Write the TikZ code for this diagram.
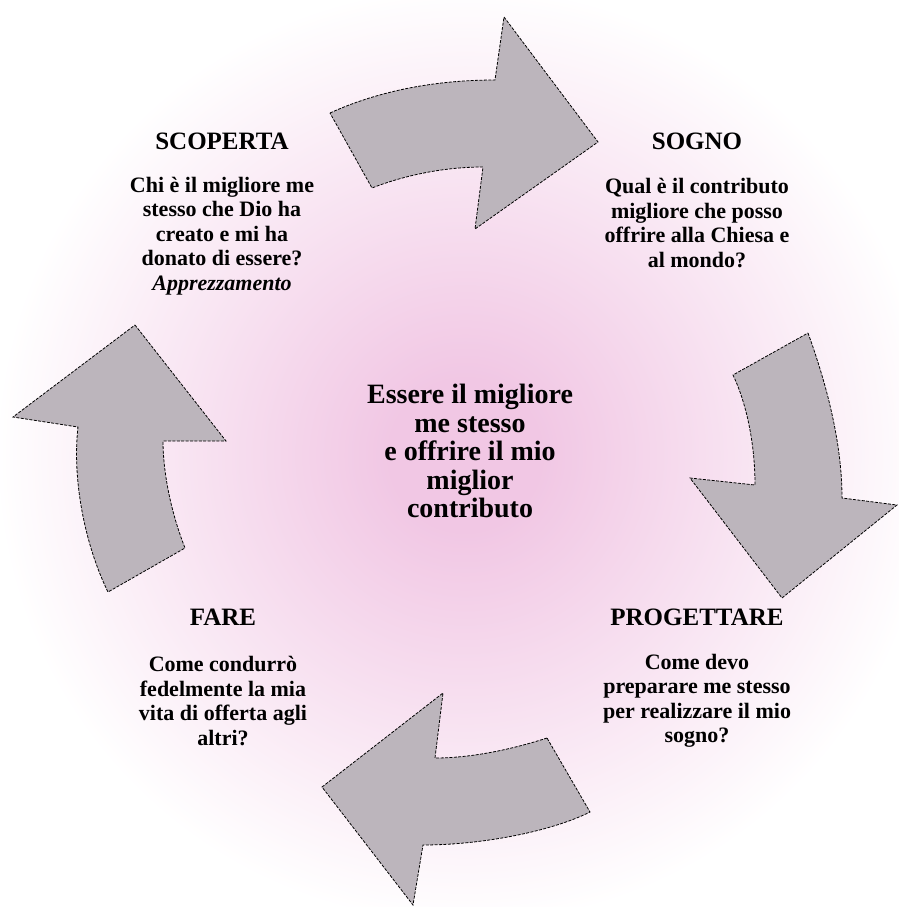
\documentclass[tikz,border=0pt]{standalone}
\usepackage{fontspec}
\setmainfont{Liberation Serif}

\definecolor{arrowgray}{RGB}{188,181,188}
\definecolor{glowpink}{RGB}{241,199,228}
\pgfdeclareradialshading{pinkglow}{\pgfpoint{0bp}{0bp}}{color(0bp)=(glowpink); color(4bp)=(glowpink); color(25bp)=(white); color(50bp)=(white)}

\tikzset{
  cyclearrow/.style={fill=arrowgray, draw=black, line width=0.8pt, dash pattern=on 3pt off 1.4pt, line join=miter},
  stagehead/.style={font=\fontsize{25}{28}\selectfont\bfseries, align=center},
  stagetext/.style={font=\fontsize{22}{24.5}\selectfont\bfseries, align=center},
  coretext/.style={font=\fontsize{28}{28.5}\selectfont\bfseries, align=center}
}

\begin{document}
\begin{tikzpicture}[x=1pt,y=-1pt]
\useasboundingbox (0,0) rectangle (898,907);
\fill[white] (0,0) rectangle (898,907);
\shade[shading=pinkglow] (465,455) circle (470pt);

% --- Arrows of the cycle ---
\draw[cyclearrow] (330,113) .. controls (365,97) and (420,80) .. (495,80) -- (504,17) -- (598,142)
  -- (475,229) -- (483,167) .. controls (440,167) and (400,177) .. (372,188) -- cycle;
\draw[cyclearrow] (808,333) .. controls (825,380) and (842,440) .. (842,498) -- (897,505) -- (782,598)
  -- (690,478) -- (755,485) .. controls (755,440) and (745,400) .. (733,375) -- cycle;
\draw[cyclearrow] (547,738) .. controls (510,750) and (470,758) .. (435,758) -- (443,693) -- (322,787)
  -- (413,905) -- (423,845) .. controls (480,845) and (550,832) .. (590,812) -- cycle;
\draw[cyclearrow] (135,325) -- (226,441) -- (163,441) .. controls (163,470) and (170,510) .. (185,548)
  -- (108,592) .. controls (85,545) and (72,480) .. (78,427) -- (13,417) -- cycle;

% --- Stages ---
\node[stagehead] (scoperta) at (222,141) {SCOPERTA};
\node[stagetext] (scopertatxt) at (222,236) {Chi è il migliore me\\stesso che Dio ha\\creato e mi ha\\donato di essere?\\\textit{Apprezzamento}};

\node[stagehead] (sogno) at (697,141) {SOGNO};
\node[stagetext] (sognotxt) at (697,223) {Qual è il contributo\\migliore che posso\\offrire alla Chiesa e\\al mondo?};

\node[stagehead] (fare) at (223,617) {FARE};
\node[stagetext] (faretxt) at (223,701) {Come condurrò\\fedelmente la mia\\vita di offerta agli\\altri?};

\node[stagehead] (progettare) at (697,617) {PROGETTARE};
\node[stagetext] (progettaretxt) at (697,701) {Come devo\\preparare me stesso\\per realizzare il mio\\sogno?};

% --- Centre ---
\node[coretext] (core) at (470,451) {Essere il migliore\\me stesso\\e offrire il mio\\miglior\\contributo};
\end{tikzpicture}
\end{document}
